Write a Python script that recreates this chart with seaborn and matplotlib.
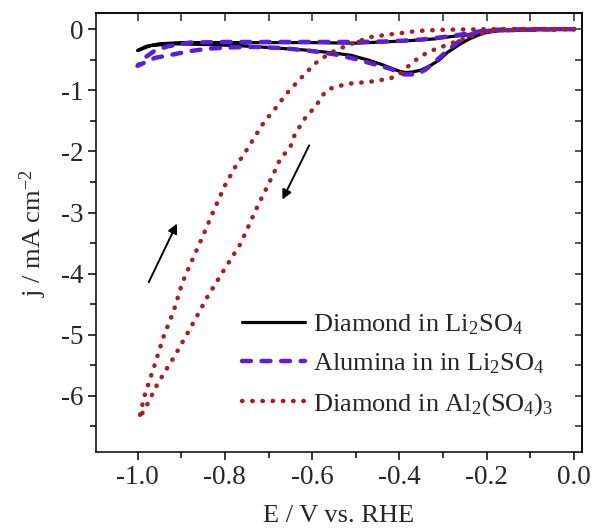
import matplotlib
matplotlib.use("Agg")
import matplotlib.pyplot as plt
from matplotlib.ticker import MultipleLocator
import seaborn as sns

# cyclic voltammograms, values (forward scan 0 -> -1 V, then return)
dia_li_fwd_E = [0.0, -0.1, -0.18, -0.21, -0.24, -0.26, -0.29, -0.31, -0.33, -0.35, -0.37, -0.385,
                -0.40, -0.415, -0.44, -0.47, -0.51, -0.55, -0.62, -0.70, -0.77, -0.85, -0.92, -0.97, -1.0]
dia_li_fwd_j = [0.0, -0.01, -0.03, -0.07, -0.16, -0.24, -0.38, -0.51, -0.60, -0.67, -0.70, -0.71,
                -0.69, -0.65, -0.58, -0.51, -0.43, -0.39, -0.34, -0.30, -0.27, -0.25, -0.24, -0.27, -0.35]
dia_li_ret_E = [-1.0, -0.98, -0.95, -0.9, -0.8, -0.7, -0.6, -0.5, -0.44, -0.38, -0.32, -0.28,
                -0.25, -0.22, -0.19, -0.15, -0.1, 0.0]
dia_li_ret_j = [-0.35, -0.28, -0.24, -0.22, -0.22, -0.22, -0.22, -0.23, -0.21, -0.19, -0.16, -0.12,
                -0.10, -0.06, -0.03, -0.01, 0.0, 0.0]

alu_li_fwd_E = [0.0, -0.1, -0.18, -0.2, -0.23, -0.255, -0.285, -0.315, -0.34, -0.36, -0.39, -0.42,
                -0.46, -0.50, -0.55, -0.61, -0.67, -0.73, -0.79, -0.84, -0.88, -0.93, -0.96, -1.0]
alu_li_fwd_j = [0.0, -0.01, -0.02, -0.03, -0.07, -0.15, -0.32, -0.51, -0.66, -0.74, -0.74, -0.65,
                -0.57, -0.49, -0.41, -0.35, -0.31, -0.29, -0.30, -0.32, -0.36, -0.43, -0.47, -0.60]
alu_li_ret_E = [-1.0, -0.98, -0.96, -0.93, -0.88, -0.8, -0.7, -0.6, -0.5, -0.42, -0.35, -0.3,
                -0.26, -0.22, -0.18, -0.1, 0.0]
alu_li_ret_j = [-0.60, -0.45, -0.35, -0.28, -0.22, -0.21, -0.21, -0.21, -0.21, -0.20, -0.17, -0.13,
                -0.09, -0.04, -0.01, 0.0, 0.0]

dia_al_fwd_E = [0.0, -0.1, -0.18, -0.21, -0.25, -0.285, -0.31, -0.334, -0.368, -0.399, -0.422, -0.467,
                -0.513, -0.551, -0.570, -0.582, -0.597, -0.620, -0.642, -0.65, -0.673, -0.688, -0.726,
                -0.764, -0.802, -0.840, -0.878, -0.916, -0.954, -0.977, -0.996]
dia_al_fwd_j = [0.0, -0.005, -0.02, -0.07, -0.15, -0.24, -0.31, -0.37, -0.53, -0.73, -0.81, -0.86,
                -0.89, -0.95, -1.02, -1.16, -1.30, -1.49, -1.76, -1.93, -2.12, -2.36, -2.91,
                -3.51, -3.94, -4.38, -4.88, -5.36, -5.80, -6.13, -6.37]
dia_al_ret_E = [-0.996, -0.985, -0.962, -0.939, -0.918, -0.897, -0.878, -0.85, -0.825, -0.80, -0.772,
                -0.76, -0.726, -0.711, -0.688, -0.658, -0.627, -0.593, -0.559, -0.521, -0.467, -0.437,
                -0.391, -0.36, -0.30, -0.247, -0.2, -0.1, 0.0]
dia_al_ret_j = [-6.37, -6.02, -5.52, -5.00, -4.63, -4.14, -3.83, -3.38, -2.96, -2.56, -2.20,
                -2.09, -1.70, -1.53, -1.33, -1.05, -0.81, -0.56, -0.39, -0.27, -0.13, -0.10,
                -0.06, -0.03, -0.01, -0.005, 0.0, 0.0, 0.0]

labels = ["Diamond in Li$_2$SO$_4$", "Alumina in in Li$_2$SO$_4$", "Diamond in Al$_2$(SO$_4$)$_3$"]

# scan direction arrows (tail, head) in data coords
arrow_up = [(-0.977, -4.18), (-0.907, -3.14)]
arrow_down = [(-0.604, -1.86), (-0.671, -2.83)]

sns.set_theme(style="ticks")
plt.rcParams["font.family"] = ["Liberation Serif", "DejaVu Serif"]
plt.rcParams["mathtext.fontset"] = "custom"
plt.rcParams["mathtext.rm"] = "Liberation Serif"
plt.rcParams["mathtext.it"] = "Liberation Serif:italic"
plt.rcParams["mathtext.default"] = "regular"
plt.rcParams["axes.unicode_minus"] = False

fig = plt.figure(figsize=(5.94, 5.30), dpi=100)
ax = fig.add_axes([0.161, 0.147, 0.818, 0.828])

sns.lineplot(x=dia_li_fwd_E + dia_li_ret_E, y=dia_li_fwd_j + dia_li_ret_j, sort=False, estimator=None,
             color="black", linewidth=2.3, label=labels[0], ax=ax)
sns.lineplot(x=alu_li_fwd_E + alu_li_ret_E, y=alu_li_fwd_j + alu_li_ret_j, sort=False, estimator=None,
             color="#5a1ee0", linewidth=3.2, linestyle=(0, (2.0, 2.4)), dash_capstyle="round",
             label=labels[1], ax=ax)
sns.lineplot(x=dia_al_fwd_E + dia_al_ret_E, y=dia_al_fwd_j + dia_al_ret_j, sort=False, estimator=None,
             color="#b0191e", linewidth=3.2, linestyle=(0, (0.1, 2.2)), dash_capstyle="round",
             label=labels[2], ax=ax)

for tail, head in [arrow_up, arrow_down]:
    ax.annotate("", xy=head, xytext=tail,
                arrowprops=dict(arrowstyle="-|>", color="black", lw=1.4, mutation_scale=14))

ax.set_xlim(-1.096, 0.017)
ax.set_ylim(-6.92, 0.26)
ax.xaxis.set_minor_locator(MultipleLocator(0.1))
ax.yaxis.set_minor_locator(MultipleLocator(0.5))
ax.set_xticks([-1.0, -0.8, -0.6, -0.4, -0.2, 0.0])
ax.set_xticklabels(["-1.0", "-0.8", "-0.6", "-0.4", "-0.2", "0.0"])
ax.set_yticks([0, -1, -2, -3, -4, -5, -6])
ax.set_yticklabels(["0", "-1", "-2", "-3", "-4", "-5", "-6"])

for s in ax.spines.values():
    s.set_linewidth(1.1)
    s.set_color("black")
ax.tick_params(which="both", direction="out", bottom=True, left=True, top=False, right=False,
               width=1.1, color="black", labelsize=19.5, pad=3)
ax.tick_params(which="major", length=6)
ax.tick_params(which="minor", length=4)

# mirrored inward ticks on top and right
sec_x = ax.secondary_xaxis("top")
sec_x.xaxis.set_major_locator(MultipleLocator(0.1))
sec_x.tick_params(direction="in", length=6, width=1.1, labeltop=False)
sec_y = ax.secondary_yaxis("right")
sec_y.yaxis.set_major_locator(MultipleLocator(0.5))
sec_y.tick_params(direction="in", length=5, width=1.1, labelright=False)

ax.set_xlabel("E / V vs. RHE", fontsize=19, labelpad=11)
ax.set_ylabel("j / mA cm$^{-2}$", fontsize=19, labelpad=8)

ax.legend(loc="upper left", bbox_to_anchor=(0.279, 0.342), frameon=False, fontsize=19,
          handlelength=2.4, handletextpad=0.3, labelspacing=0.55, borderaxespad=0)

fig.savefig("out.png", dpi=100)
